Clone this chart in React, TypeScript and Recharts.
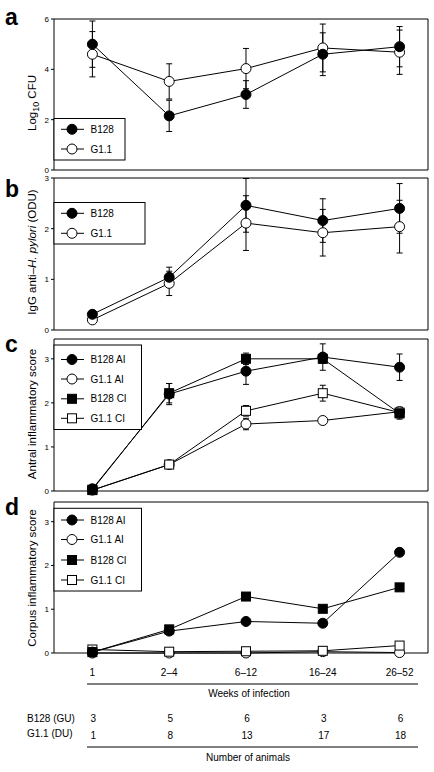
import React from 'react';
import { LineChart, Line, XAxis, YAxis, ErrorBar, ReferenceArea } from 'recharts';

// ---------- data ----------
const weeks = ['1', '2\u20134', '6\u201312', '16\u201324', '26\u201352'];

// panel a: log10 CFU
const cfuB128 = [5.0, 2.15, 3.0, 4.6, 4.9];
const cfuB128Err = [0.92, 0.62, 0.55, 0.85, 0.8];
const cfuG11 = [4.6, 3.52, 4.03, 4.85, 4.68];
const cfuG11Err = [0.9, 0.7, 0.8, 0.95, 0.88];

// panel b: IgG anti-H. pylori (ODU)
const igB128 = [0.31, 1.04, 2.46, 2.16, 2.4];
const igB128Err = [0.03, 0.2, 0.53, 0.43, 0.49];
const igG11 = [0.2, 0.92, 2.11, 1.92, 2.04];
const igG11Err = [0.03, 0.24, 0.54, 0.46, 0.52];

// panel c: antral inflammatory score
const antB128AI = [0.05, 2.2, 2.72, 3.04, 2.81];
const antB128AIErr = [0, 0.24, 0.3, 0.3, 0.3];
const antG11AI = [0.02, 0.6, 1.52, 1.6, 1.8];
const antG11AIErr = [0, 0, 0.13, 0.08, 0.1];
const antB128CI = [0.03, 2.22, 3.0, 3.0, 1.76];
const antB128CIErr = [0, 0.22, 0.13, 0.1, 0.13];
const antG11CI = [0.02, 0.6, 1.82, 2.22, 1.78];
const antG11CIErr = [0, 0, 0.12, 0.18, 0.12];

// panel d: corpus inflammatory score
const corB128AI = [0.02, 0.5, 0.72, 0.68, 2.3];
const corB128AIErr = [0, 0, 0, 0, 0.07];
const corG11AI = [0.0, 0.0, 0.0, 0.03, 0.01];
const corB128CI = [0.02, 0.54, 1.29, 1.01, 1.5];
const corB128CIErr = [0, 0, 0, 0, 0.07];
const corG11CI = [0.08, 0.03, 0.04, 0.05, 0.17];

// table: number of animals
const animalsB128 = [3, 5, 6, 3, 6];
const animalsG11 = [1, 8, 13, 17, 18];

const ticksA = [0, 2, 4, 6];
const ticksB = [0, 1, 2, 3];
const ticksCD = [0, 1, 2, 3];

// ---------- build rows ----------
const rows = weeks.map((w, i) => ({
  i,
  week: w,
  cfuB128: cfuB128[i], cfuB128Err: cfuB128Err[i],
  cfuG11: cfuG11[i], cfuG11Err: cfuG11Err[i],
  igB128: igB128[i], igB128Err: igB128Err[i],
  igG11: igG11[i], igG11Err: igG11Err[i],
  antB128AI: antB128AI[i], antB128AIErr: antB128AIErr[i],
  antG11AI: antG11AI[i], antG11AIErr: antG11AIErr[i],
  antB128CI: antB128CI[i], antB128CIErr: antB128CIErr[i],
  antG11CI: antG11CI[i], antG11CIErr: antG11CIErr[i],
  corB128AI: corB128AI[i], corB128AIErr: corB128AIErr[i],
  corG11AI: corG11AI[i],
  corB128CI: corB128CI[i], corB128CIErr: corB128CIErr[i],
  corG11CI: corG11CI[i],
}));

// ---------- layout ----------
const FONT = '"Liberation Sans", Arial, Helvetica, sans-serif';
const W = 434;
const Y_AXIS_W = 54;
const MARGIN_R = 6;
const PLOT_W = W - Y_AXIS_W - MARGIN_R;
const X_MIN = -0.5;
const X_MAX = 4.37;
const xPx = (i: number) => Y_AXIS_W + ((i - X_MIN) / (X_MAX - X_MIN)) * PLOT_W;

type Shape = 'circle' | 'square';
type Series = { key: string; err?: string; shape: Shape; filled: boolean; name: string };

const makeDot = (shape: Shape, filled: boolean) => (props: any) => {
  const { cx, cy, index } = props;
  if (cx == null || cy == null) return <g key={`n${index}`} />;
  const fill = filled ? '#000' : '#fff';
  if (shape === 'circle') {
    return <circle key={`c${index}`} cx={cx} cy={cy} r={5} fill={fill} stroke="#000" strokeWidth={1} />;
  }
  return (
    <rect key={`s${index}`} x={cx - 4.5} y={cy - 4.5} width={9} height={9} fill={fill} stroke="#000" strokeWidth={1} />
  );
};

type PanelProps = {
  top: number;
  height: number;
  mTop: number;
  mBottom: number;
  yMax: number;
  ticks: number[];
  series: Series[];
  xAxisH?: number;
};

const Panel = ({ top, height, mTop, mBottom, yMax, ticks, series, xAxisH }: PanelProps) => (
  <div style={{ position: 'absolute', left: 0, top, width: W, height }}>
    <LineChart
      width={W}
      height={height}
      data={rows}
      margin={{ top: mTop, right: MARGIN_R, bottom: mBottom, left: 0 }}
    >
      <XAxis
        dataKey="i"
        type="number"
        domain={[X_MIN, X_MAX]}
        ticks={[0, 1, 2, 3, 4]}
        interval={0}
        hide={!xAxisH}
        axisLine={false}
        tickLine={false}
        tickSize={0}
        tickMargin={16}
        height={xAxisH || 0}
        tickFormatter={(v: number) => weeks[v] ?? ''}
        tick={{ fontSize: 10, fill: '#000', fontFamily: FONT }}
      />
      <YAxis
        type="number"
        domain={[0, yMax]}
        ticks={ticks}
        interval={0}
        width={Y_AXIS_W}
        axisLine={false}
        tickLine={{ stroke: '#000', strokeWidth: 1 }}
        tickSize={3}
        tickMargin={2}
        tick={{ fontSize: 8, fill: '#000', fontFamily: FONT }}
      />
      <ReferenceArea
        x1={X_MIN}
        x2={X_MAX}
        y1={0}
        y2={yMax}
        fill="none"
        fillOpacity={0}
        stroke="#000"
        strokeWidth={1}
        strokeOpacity={1}
      />
      {series.map((s) => (
        <Line
          key={s.key}
          dataKey={s.key}
          type="linear"
          stroke="#000"
          strokeWidth={1}
          isAnimationActive={false}
          dot={makeDot(s.shape, s.filled)}
          activeDot={false}
        >
          {s.err ? (
            <ErrorBar dataKey={s.err} width={3} stroke="#000" strokeWidth={1} direction="y" />
          ) : null}
        </Line>
      ))}
    </LineChart>
  </div>
);

const seriesA: Series[] = [
  { key: 'cfuG11', err: 'cfuG11Err', shape: 'circle', filled: false, name: 'G1.1' },
  { key: 'cfuB128', err: 'cfuB128Err', shape: 'circle', filled: true, name: 'B128' },
];
const seriesB: Series[] = [
  { key: 'igG11', err: 'igG11Err', shape: 'circle', filled: false, name: 'G1.1' },
  { key: 'igB128', err: 'igB128Err', shape: 'circle', filled: true, name: 'B128' },
];
const seriesC: Series[] = [
  { key: 'antG11AI', err: 'antG11AIErr', shape: 'circle', filled: false, name: 'G1.1 AI' },
  { key: 'antG11CI', err: 'antG11CIErr', shape: 'square', filled: false, name: 'G1.1 CI' },
  { key: 'antB128AI', err: 'antB128AIErr', shape: 'circle', filled: true, name: 'B128 AI' },
  { key: 'antB128CI', err: 'antB128CIErr', shape: 'square', filled: true, name: 'B128 CI' },
];
const seriesD: Series[] = [
  { key: 'corG11AI', shape: 'circle', filled: false, name: 'G1.1 AI' },
  { key: 'corG11CI', shape: 'square', filled: false, name: 'G1.1 CI' },
  { key: 'corB128AI', err: 'corB128AIErr', shape: 'circle', filled: true, name: 'B128 AI' },
  { key: 'corB128CI', err: 'corB128CIErr', shape: 'square', filled: true, name: 'B128 CI' },
];

const legendTwo = [
  { name: 'B128', shape: 'circle' as Shape, filled: true },
  { name: 'G1.1', shape: 'circle' as Shape, filled: false },
];
const legendFour = [
  { name: 'B128 AI', shape: 'circle' as Shape, filled: true },
  { name: 'G1.1 AI', shape: 'circle' as Shape, filled: false },
  { name: 'B128 CI', shape: 'square' as Shape, filled: true },
  { name: 'G1.1 CI', shape: 'square' as Shape, filled: false },
];

const LegendBox = ({
  x, y, w, h, rowsY, items,
}: { x: number; y: number; w: number; h: number; rowsY: number[]; items: { name: string; shape: Shape; filled: boolean }[] }) => (
  <g>
    <rect x={x} y={y} width={w} height={h} fill="#fff" stroke="#000" strokeWidth={1} />
    {items.map((it, k) => {
      const cy = rowsY[k];
      const fill = it.filled ? '#000' : '#fff';
      return (
        <g key={it.name}>
          <line x1={x + 7} x2={x + 30} y1={cy} y2={cy} stroke="#000" strokeWidth={1} />
          {it.shape === 'circle' ? (
            <circle cx={x + 18} cy={cy} r={5} fill={fill} stroke="#000" strokeWidth={1} />
          ) : (
            <rect x={x + 13.5} y={cy - 4.5} width={9} height={9} fill={fill} stroke="#000" strokeWidth={1} />
          )}
          <text x={x + 36.5} y={cy + 3.6} fontSize={10} fontFamily={FONT} fill="#000">
            {it.name}
          </text>
        </g>
      );
    })}
  </g>
);

const Overlay = () => (
  <svg
    width={W}
    height={772}
    style={{ position: 'absolute', left: 0, top: 0, pointerEvents: 'none' }}
  >
    {/* panel letters */}
    {[
      ['a', 25],
      ['b', 197],
      ['c', 352],
      ['d', 515],
    ].map(([l, y]) => (
      <text key={l as string} x={5} y={y as number} fontSize={23} fontWeight="bold" fontFamily={FONT} fill="#000">
        {l}
      </text>
    ))}

    {/* y-axis titles */}
    <text transform="translate(36,103) rotate(-90)" textAnchor="middle" fontSize={11.5} fontFamily={FONT} fill="#000">
      Log<tspan fontSize={9} dy={3}>10</tspan><tspan dy={-3}> CFU</tspan>
    </text>
    <text transform="translate(36,252) rotate(-90)" textAnchor="middle" fontSize={11.5} fontFamily={FONT} fill="#000">
      IgG anti{'\u2013'}<tspan fontStyle="italic">H. pylori</tspan>  (ODU)
    </text>
    <text transform="translate(36,414) rotate(-90)" textAnchor="middle" fontSize={11.5} fontFamily={FONT} fill="#000">
      Antral inflammatory score
    </text>
    <text transform="translate(36,578) rotate(-90)" textAnchor="middle" fontSize={11.5} fontFamily={FONT} fill="#000">
      Corpus inflammatory score
    </text>

    {/* legends */}
    <LegendBox x={54} y={118.5} w={71} h={41.5} rowsY={[129.3, 149]} items={legendTwo} />
    <LegendBox x={54} y={202.5} w={91} h={41.5} rowsY={[213.3, 233.3]} items={legendTwo} />
    <LegendBox x={54} y={345} w={87.5} h={84.5} rowsY={[359.5, 379, 398.8, 418.3]} items={legendFour} />
    <LegendBox x={54} y={508.3} w={87.5} h={82.7} rowsY={[520, 539.5, 560, 580]} items={legendFour} />

    {/* table */}
    <line x1={87} x2={418} y1={684} y2={684} stroke="#000" strokeWidth={1} />
    <text x={249} y={697} textAnchor="middle" fontSize={10} fontFamily={FONT} fill="#000">
      Weeks of infection
    </text>
    <text x={27} y={722} fontSize={10} fontFamily={FONT} fill="#000">B128 (GU)</text>
    <text x={27} y={737} fontSize={10} fontFamily={FONT} fill="#000">G1.1 (DU)</text>
    {animalsB128.map((v, i) => (
      <text key={`b${i}`} x={xPx(i) + 1} y={722} textAnchor="middle" fontSize={10} fontFamily={FONT} fill="#000">
        {v}
      </text>
    ))}
    {animalsG11.map((v, i) => (
      <text key={`g${i}`} x={xPx(i) + 1} y={739} textAnchor="middle" fontSize={10} fontFamily={FONT} fill="#000">
        {v}
      </text>
    ))}
    <line x1={87} x2={418} y1={747} y2={747} stroke="#000" strokeWidth={1} />
    <text x={248} y={761} textAnchor="middle" fontSize={10} fontFamily={FONT} fill="#000">
      Number of animals
    </text>
  </svg>
);

export default function App() {
  return (
    <div style={{ position: 'absolute', left: 0, top: 0, width: W, height: 772, background: '#fff', fontFamily: FONT }}>
      <Panel top={0} height={180} mTop={19} mBottom={10} yMax={6} ticks={ticksA} series={seriesA} />
      <Panel top={170} height={170} mTop={8} mBottom={10} yMax={3} ticks={ticksB} series={seriesB} />
      <Panel top={330} height={170} mTop={9} mBottom={9} yMax={3.45} ticks={ticksCD} series={seriesC} />
      <Panel top={495} height={200} mTop={7} mBottom={0} yMax={3.45} ticks={ticksCD} series={seriesD} xAxisH={42} />
      <Overlay />
    </div>
  );
}
